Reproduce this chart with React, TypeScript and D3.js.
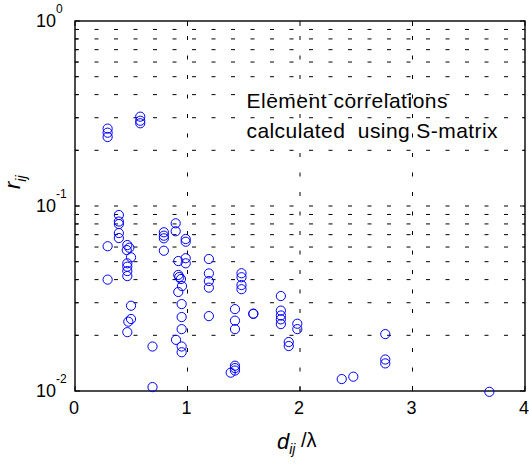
import React from "react";
import * as d3 from "d3";

// distance d_ij / lambda
const distX: number[] = [
  0.29, 0.29, 0.29, 0.29, 0.29,
  0.39, 0.39, 0.39, 0.39, 0.39,
  0.465, 0.483, 0.46, 0.498, 0.465, 0.465, 0.465, 0.465, 0.498, 0.498, 0.474, 0.465,
  0.58, 0.58, 0.58,
  0.689, 0.689,
  0.79, 0.79, 0.79, 0.79,
  0.895, 0.895, 0.898,
  0.918, 0.918, 0.918, 0.927, 0.942, 0.951,
  0.948, 0.948, 0.948, 0.948, 0.948,
  0.984, 0.984, 0.984, 0.984,
  1.19, 1.19, 1.19, 1.19, 1.19,
  1.384, 1.422, 1.422, 1.422, 1.422, 1.422, 1.422,
  1.48, 1.48, 1.48, 1.48,
  1.585, 1.585,
  1.83, 1.83, 1.83, 1.83, 1.83,
  1.9, 1.9,
  1.976, 1.976,
  2.371, 2.474,
  2.758, 2.758, 2.758,
  3.683,
];

// correlation r_ij
const corrR: number[] = [
  0.262, 0.249, 0.236, 0.0606, 0.040,
  0.0894, 0.0824, 0.0799, 0.0714, 0.0671,
  0.0615, 0.0595, 0.0578, 0.0528, 0.049, 0.047, 0.0445, 0.0418, 0.0289, 0.0245, 0.0237, 0.0208,
  0.304, 0.289, 0.28,
  0.0174, 0.0105,
  0.0721, 0.0691, 0.0669, 0.0573,
  0.0806, 0.073, 0.0189,
  0.0504, 0.0424, 0.0343, 0.0413, 0.0403, 0.0369,
  0.0295, 0.0251, 0.0216, 0.0174, 0.0162,
  0.0663, 0.0641, 0.0522, 0.049,
  0.0517, 0.0432, 0.0393, 0.0362, 0.0254,
  0.01256, 0.0277, 0.024, 0.0216, 0.0137, 0.0133, 0.0129,
  0.0433, 0.0412, 0.0374, 0.0355,
  0.0261, 0.0262,
  0.0326, 0.0272, 0.0256, 0.0244, 0.023,
  0.0184, 0.0175,
  0.0231, 0.0216,
  0.0116, 0.01195,
  0.0203, 0.0148, 0.0141,
  0.0099,
];

const xTicks: number[] = [0, 1, 2, 3, 4];
const yMajorExp: number[] = [-2, -1, 0];
const annotationLines: string[] = ["Element correlations", "calculated  using S-matrix"];

const W = 529;
const H = 464;
const left = 75;
const right = 525;
const top = 21;
const bottom = 391;

export default function App() {
  const x = d3.scaleLinear().domain([0, 4]).range([left, right]);
  const y = d3.scaleLog().domain([0.01, 1]).range([bottom, top]);

  const minor: number[] = [];
  [0.01, 0.1].forEach((b) => {
    for (let k = 2; k <= 9; k++) minor.push(b * k);
  });

  const font = "Arial, 'Liberation Sans', Helvetica, sans-serif";
  const dash = "4,15.5";

  return (
    <svg
      width={W}
      height={H}
      style={{ position: "absolute", left: 0, top: 0, background: "#fff" }}
      fontFamily={font}
    >
      <rect x={0} y={0} width={W} height={H} fill="#fff" />
      {/* horizontal grid */}
      {[...minor, 0.1].map((v, i) => (
        <line
          key={"hg" + i}
          x1={left}
          x2={right}
          y1={y(v)}
          y2={y(v)}
          stroke="#000"
          strokeWidth={1}
          strokeDasharray={dash}
        />
      ))}
      {/* vertical grid */}
      {xTicks.slice(1, -1).map((t) => (
        <line
          key={"vg" + t}
          x1={x(t)}
          x2={x(t)}
          y1={bottom}
          y2={top}
          stroke="#000"
          strokeWidth={1}
          strokeDasharray={dash}
        />
      ))}
      {/* minor ticks */}
      {minor.map((v, i) => (
        <g key={"mt" + i}>
          <line x1={left} x2={left + 3} y1={y(v)} y2={y(v)} stroke="#000" />
          <line x1={right} x2={right - 3} y1={y(v)} y2={y(v)} stroke="#000" />
        </g>
      ))}
      {/* major y ticks */}
      {yMajorExp.map((e) => (
        <g key={"yt" + e}>
          <line x1={left} x2={left + 5} y1={y(10 ** e)} y2={y(10 ** e)} stroke="#000" />
          <line x1={right} x2={right - 5} y1={y(10 ** e)} y2={y(10 ** e)} stroke="#000" />
          <text x={36} y={y(10 ** e) + 6} fontSize={18} fill="#000">
            10
            <tspan fontSize={12} dy={-14}>
              {String(e)}
            </tspan>
          </text>
        </g>
      ))}
      {/* x ticks */}
      {xTicks.map((t) => (
        <g key={"xt" + t}>
          <line x1={x(t)} x2={x(t)} y1={bottom} y2={bottom - 5} stroke="#000" />
          <line x1={x(t)} x2={x(t)} y1={top} y2={top + 5} stroke="#000" />
          <text x={x(t) - 1} y={414} fontSize={18} textAnchor="middle" fill="#000">
            {t}
          </text>
        </g>
      ))}
      {/* axes box */}
      <rect
        x={left}
        y={top}
        width={right - left}
        height={bottom - top}
        fill="none"
        stroke="#000"
        strokeWidth={1.4}
      />
      {/* points */}
      {distX.map((dx, i) => (
        <circle
          key={"p" + i}
          cx={x(dx)}
          cy={y(corrR[i])}
          r={4.6}
          fill="none"
          stroke="#0000ff"
          strokeWidth={1}
        />
      ))}
      {/* annotation */}
      <text
        x={246.5}
        y={108}
        fontSize={21}
        fill="#000"
        textLength={201}
        lengthAdjust="spacing"
        style={{ whiteSpace: "pre" }}
      >
        {annotationLines[0]}
      </text>
      <text
        x={246.5}
        y={138}
        fontSize={21}
        fill="#000"
        textLength={251}
        lengthAdjust="spacing"
        style={{ whiteSpace: "pre" }}
      >
        {annotationLines[1]}
      </text>
      {/* y label */}
      <text transform="translate(20,189) rotate(-90)" fill="#000">
        <tspan fontSize={22} fontStyle="italic">r</tspan>
        <tspan fontSize={14} fontStyle="italic" dy={6}>ij</tspan>
      </text>
      {/* x label */}
      <text x={277} y={449} fill="#000">
        <tspan fontSize={22} fontStyle="italic">d</tspan>
        <tspan fontSize={14} fontStyle="italic" dy={5}>ij</tspan>
        <tspan fontSize={20} dy={-7} style={{ whiteSpace: "pre" }}> /λ</tspan>
      </text>
    </svg>
  );
}
